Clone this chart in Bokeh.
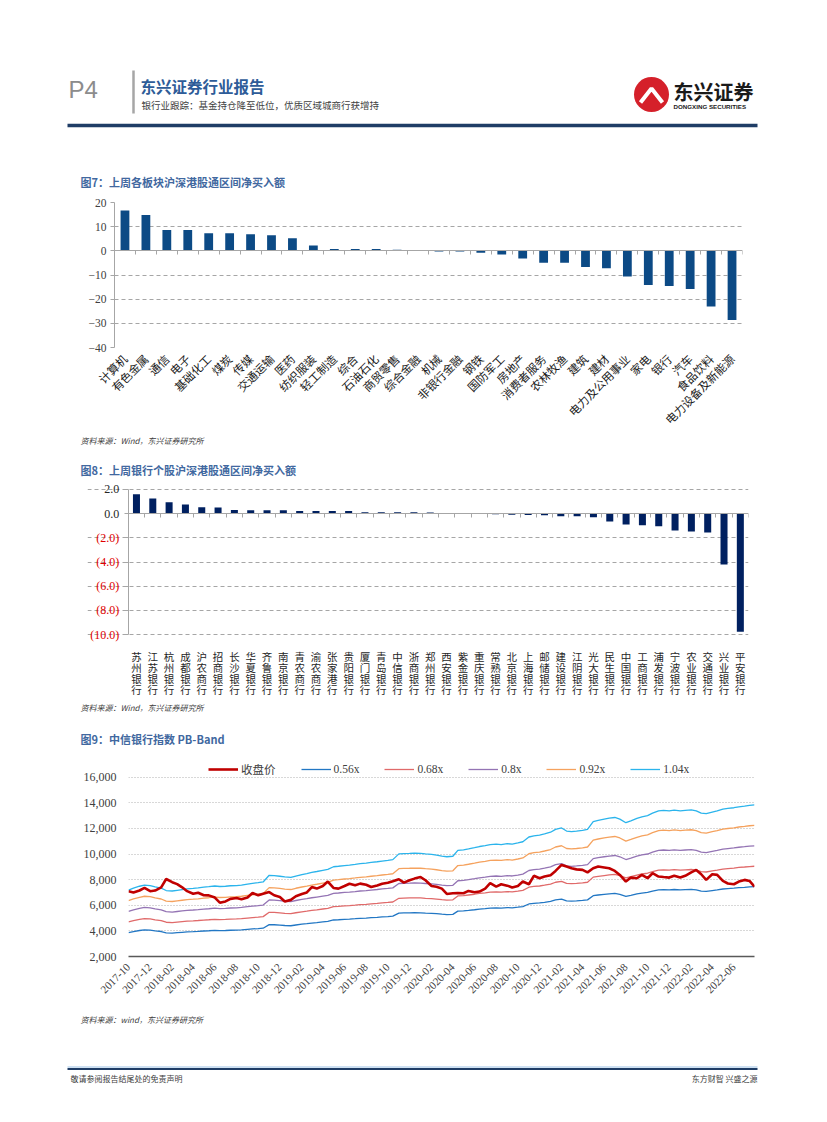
from math import pi
import datetime as dt
import pandas as pd
from bokeh.plotting import figure
from bokeh.layouts import column
from bokeh.models import (Range1d, FixedTicker, LinearAxis, Legend, LegendItem, LabelSet,
                          ColumnDataSource, MonthsTicker, DatetimeTickFormatter, NumeralTickFormatter)
from bokeh.core.properties import value
from bokeh.embed import file_html
from bokeh.resources import INLINE

CJK = "Noto Sans CJK SC"
SERIF = "Liberation Serif"
MIXED = "Liberation Serif, Noto Sans CJK SC"

# ---------------- data: chart 7 ----------------
sectors = ["计算机", "有色金属", "通信", "电子", "基础化工", "煤炭", "传媒", "交通运输", "医药",
           "纺织服装", "轻工制造", "综合", "石油石化", "商贸零售", "综合金融", "机械", "非银行金融",
           "钢铁", "国防军工", "房地产", "消费者服务", "农林牧渔", "建筑", "建材", "电力及公用事业",
           "家电", "银行", "汽车", "食品饮料", "电力设备及新能源"]
sector_flow = [16.7, 14.8, 8.6, 8.6, 7.3, 7.3, 6.9, 6.4, 5.2, 2.2, 0.8, 0.8, 0.8, 0.4, 0.1,
               -0.3, -0.3, -0.8, -1.5, -3.2, -4.9, -4.9, -6.7, -7.2, -10.6, -14.1, -14.6,
               -15.8, -23.0, -28.6]
sector_ticks = [20, 10, 0, -10, -20, -30, -40]

# ---------------- data: chart 8 ----------------
banks = ["苏州银行", "江苏银行", "杭州银行", "成都银行", "沪农商行", "招商银行", "长沙银行", "华夏银行",
         "齐鲁银行", "南京银行", "青农商行", "渝农商行", "张家港行", "贵阳银行", "厦门银行", "青岛银行",
         "中信银行", "浙商银行", "郑州银行", "西安银行", "紫金银行", "重庆银行", "常熟银行", "北京银行",
         "上海银行", "邮储银行", "建设银行", "江阴银行", "光大银行", "民生银行", "中国银行", "工商银行",
         "浦发银行", "宁波银行", "农业银行", "交通银行", "兴业银行", "平安银行"]
bank_flow = [1.6, 1.25, 0.93, 0.75, 0.52, 0.5, 0.3, 0.28, 0.27, 0.27, 0.2, 0.2, 0.2, 0.2,
             0.1, 0.1, 0.1, 0.1, 0.08, 0.0, -0.02, -0.03, -0.05, -0.1, -0.13, -0.15, -0.22,
             -0.22, -0.3, -0.65, -0.9, -0.97, -1.05, -1.4, -1.48, -1.57, -4.2, -9.75]
bank_ticks = [2, 0, -2, -4, -6, -8, -10]
bank_tick_labels = ["2.0", "0.0", "(2.0)", "(4.0)", "(6.0)", "(8.0)", "(10.0)"]

# ---------------- data: chart 9 (semi-monthly readings) ----------------
pb_dates = [d.to_pydatetime() for d in pd.date_range("2017-10-01", "2022-07-15", freq="SMS")] \
           + [dt.datetime(2022, 7, 29)]
pb_close = [7100, 7000, 7150, 7350, 7100, 7150, 7400, 8050, 7800, 7650,
            7400, 7100, 6900, 6980, 6780, 6770, 6600, 6200, 6300, 6500,
            6560, 6460, 6600, 6950, 6780, 6900, 7030, 6780, 6650, 6300,
            6420, 6700, 6880, 7000, 7420, 7300, 7500, 7850, 7350, 7300,
            7500, 7680, 7560, 7690, 7600, 7430, 7550, 7680, 7750, 7870,
            8030, 7770, 7950, 8080, 8200, 7950, 7500, 7450, 7300, 6880,
            6940, 6950, 6940, 7120, 7010, 7070, 7300, 7720, 7460, 7640,
            7530, 7380, 7500, 7850, 7640, 8300, 8110, 8240, 8350, 8680,
            9150, 9020, 8890, 8800, 8760, 8570, 8890, 9020, 8950, 8890,
            8680, 8370, 7850, 8160, 8110, 8370, 8110, 8500, 8240, 8200,
            8160, 8310, 8160, 8300, 8570, 8760, 8420, 7980, 8420, 8370,
            7900, 7700, 7640, 7850, 7980, 7900, 7450]
# book value per share expressed through the 0.56x line
pb_056 = [3870, 3950, 4030, 4080, 4060, 4000, 3950, 3850, 3830, 3860,
          3890, 3920, 3940, 3960, 3990, 4010, 4040, 4020, 4030, 4050,
          4060, 4080, 4120, 4150, 4180, 4210, 4490, 4480, 4450, 4420,
          4400, 4460, 4520, 4560, 4610, 4650, 4700, 4740, 4850, 4870,
          4900, 4920, 4950, 4980, 5000, 5030, 5060, 5090, 5120, 5150,
          5390, 5400, 5410, 5420, 5410, 5390, 5370, 5340, 5300, 5270,
          5290, 5540, 5560, 5600, 5650, 5700, 5740, 5780, 5800, 5780,
          5820, 5800, 5850, 5900, 6100, 6150, 6180, 6230, 6300, 6420,
          6480, 6350, 6330, 6350, 6380, 6420, 6750, 6800, 6850, 6890,
          6920, 6850, 6700, 6780, 6880, 6950, 7000, 7100, 7200, 7220,
          7200, 7230, 7200, 7220, 7240, 7200, 7100, 7080, 7150, 7200,
          7270, 7300, 7330, 7370, 7400, 7430, 7450]
pb_multiples = [0.56, 0.68, 0.8, 0.92, 1.04]
pb_labels = ["0.56x", "0.68x", "0.8x", "0.92x", "1.04x"]
pb_colors = ["#2277c4", "#e06a6a", "#9474b4", "#f5a25e", "#2bb4ec"]
pb_ticks = [2000, 4000, 6000, 8000, 10000, 12000, 14000, 16000]

n9 = min(len(pb_dates), len(pb_close), len(pb_056))
pb_dates, pb_close, pb_056 = pb_dates[:n9], pb_close[:n9], pb_056[:n9]

W = 811
GREY = "#a6a6a6"
TITLE_BLUE = "#41689f"


def fig(**kw):
    p = figure(width=W, output_backend="svg", toolbar_location=None, tools="", **kw)
    p.frame_align = False
    p.outline_line_color = None
    return p


def strip(y0, y1):
    p = fig(height=y1 - y0, x_range=Range1d(0, W), y_range=Range1d(y1, y0),
            x_axis_location=None, y_axis_location=None, min_border=0)
    p.grid.visible = False
    return p


def txt(p, x, y, s, size, color="#333333", font=CJK, style="normal", align="left"):
    p.text(x=[x], y=[y], text=[s], text_font=value(font), text_font_size=size,
           text_color=color, text_font_style=style, text_align=align, text_baseline="middle")


def zero_axis(n):
    return LinearAxis(fixed_location=0, ticker=FixedTicker(ticks=[i - 0.5 for i in range(n + 1)]),
                      major_label_overrides={i - 0.5: "" for i in range(n + 1)},
                      bounds=(-0.5, n - 0.5),
                      major_tick_in=4, major_tick_out=0, minor_tick_line_color=None,
                      axis_line_color=GREY, major_tick_line_color=GREY,
                      major_label_text_font_size="1px", major_label_standoff=0)


# ---------------- header ----------------
head = strip(0, 188)
txt(head, 68, 89, "P4", "24px", "#8c8c8c", "Liberation Sans")
head.line(x=[133, 133], y=[70, 113], line_width=2.5, line_color=GREY)
txt(head, 140, 85, "东兴证券行业报告", "15.5px", "#2e5c98", style="bold")
txt(head, 141, 104, "银行业跟踪：基金持仓降至低位，优质区域城商行获增持", "9.5px", "#3f3f3f")
head.circle(x=[651], y=[94], radius=17.5, fill_color="#d5202a", line_color=None)
head.line(x=[640, 651, 662], y=[102, 88, 102], line_width=4, line_color="white")
head.line(x=[645, 651, 657], y=[102, 95, 102], line_width=1.5, line_color="#d5202a")
txt(head, 673, 91, "东兴证券", "20px", "#1a1a1a", style="bold")
txt(head, 673, 106, "DONGXING SECURITIES", "6.2px", "#1a1a1a", "Liberation Sans", "bold")
head.line(x=[67, 757], y=[125, 125], line_width=3.5, line_color="#1f3d66")
txt(head, 80, 181, "图7：上周各板块沪深港股通区间净买入额", "11px", TITLE_BLUE, style="bold")

# ---------------- chart 7 ----------------
idx7 = list(range(len(sectors)))
p7 = fig(height=436 - 188, x_range=Range1d(-0.5, len(sectors) - 0.5),
         y_range=Range1d(-40, 20), min_border_left=114, min_border_right=W - 742,
         min_border_top=14, min_border_bottom=89)
p7.vbar(x=idx7, top=sector_flow, width=0.42, fill_color="#0c4a85", line_color=None)
p7.xgrid.visible = False
p7.ygrid.ticker = FixedTicker(ticks=[t for t in sector_ticks if t != 0])
p7.ygrid.grid_line_dash = "4 3"
p7.ygrid.grid_line_color = GREY
p7.yaxis.ticker = FixedTicker(ticks=sector_ticks)
p7.yaxis.major_label_text_font = SERIF
p7.yaxis.major_label_text_font_size = "11.5px"
p7.yaxis.major_label_text_color = "#404040"
p7.yaxis.axis_line_color = GREY
p7.yaxis.major_tick_line_color = GREY
p7.yaxis.major_tick_out = 4
p7.yaxis.major_tick_in = 0
p7.yaxis.minor_tick_line_color = None
p7.yaxis.major_label_standoff = 4
p7.xaxis.ticker = FixedTicker(ticks=idx7)
p7.xaxis.major_label_overrides = {i: s for i, s in enumerate(sectors)}
p7.xaxis.major_label_orientation = pi / 4
p7.xaxis.major_label_text_font = CJK
p7.xaxis.major_label_text_font_size = "11.5px"
p7.xaxis.major_label_text_color = "#1a1a1a"
p7.xaxis.axis_line_color = None
p7.xaxis.major_tick_line_color = None
p7.xaxis.minor_tick_line_color = None
p7.xaxis.major_label_standoff = 3
p7.add_layout(zero_axis(len(sectors)), "above")

# ---------------- strip 1 ----------------
s1 = strip(436, 480)
txt(s1, 80, 440, "资料来源：Wind，东兴证券研究所", "8px", "#404040", style="italic")
txt(s1, 80, 469, "图8：上周银行个股沪深港股通区间净买入额", "11px", TITLE_BLUE, style="bold")

# ---------------- chart 8 ----------------
idx8 = list(range(len(banks)))
n8 = len(banks)
p8 = fig(height=700 - 480, x_range=Range1d(-3.0, n8 - 0.5),
         y_range=Range1d(-10.56, 2.56), min_border_left=87, min_border_right=W - 748,
         min_border_top=2, min_border_bottom=54)
p8.vbar(x=idx8, top=bank_flow, width=0.43, fill_color="#002060", line_color=None)
p8.xgrid.visible = False
p8.ygrid.ticker = FixedTicker(ticks=[t for t in bank_ticks if t != 0])
p8.ygrid.bounds = (-0.5, n8 - 0.5)
p8.ygrid.grid_line_dash = "4 3"
p8.ygrid.grid_line_color = GREY
p8.yaxis.fixed_location = -0.5
p8.yaxis.bounds = (min(bank_ticks), max(bank_ticks))
p8.yaxis.ticker = FixedTicker(ticks=bank_ticks)
p8.yaxis.major_label_overrides = {t: (l if t < 0 else "") for t, l in zip(bank_ticks, bank_tick_labels)}
p8.yaxis.major_label_text_color = "#e00000"
p8.yaxis.major_label_text_font = SERIF
p8.yaxis.major_label_text_font_size = "12px"
p8.yaxis.axis_line_color = GREY
p8.yaxis.major_tick_line_color = GREY
p8.yaxis.major_tick_out = 4
p8.yaxis.major_tick_in = 0
p8.yaxis.minor_tick_line_color = None
p8.yaxis.major_label_standoff = 5
pos_src = ColumnDataSource(dict(
    x=[-0.5 for t in bank_ticks if t >= 0],
    y=[t for t in bank_ticks if t >= 0],
    text=[l for t, l in zip(bank_ticks, bank_tick_labels) if t >= 0]))
p8.add_layout(LabelSet(x="x", y="y", text="text", source=pos_src, x_offset=-9,
                       text_align="right", text_baseline="middle", text_font=value(SERIF),
                       text_font_size="12px", text_color="#262626"))
p8.xaxis.ticker = FixedTicker(ticks=idx8)
p8.xaxis.major_label_overrides = {i: "\n".join(s) for i, s in enumerate(banks)}
p8.xaxis.major_label_text_font = CJK
p8.xaxis.major_label_text_font_size = "10.5px"
p8.xaxis.major_label_text_line_height = 0.75
p8.xaxis.major_label_text_color = "#262626"
p8.xaxis.axis_line_color = None
p8.xaxis.major_tick_line_color = None
p8.xaxis.minor_tick_line_color = None
p8.xaxis.major_label_standoff = 1
p8.add_layout(zero_axis(n8), "above")

# ---------------- strip 2 ----------------
s2 = strip(700, 745)
txt(s2, 80, 707, "资料来源：Wind，东兴证券研究所", "8px", "#404040", style="italic")
txt(s2, 80, 738, "图9：中信银行指数 PB-Band", "11px", TITLE_BLUE, style="bold")

# ---------------- chart 9 ----------------
p9 = fig(height=1000 - 745, x_axis_type="datetime",
         x_range=Range1d(pb_dates[0], pb_dates[-1]), y_range=Range1d(2000, 17300),
         min_border_left=128, min_border_right=W - 754, min_border_top=15, min_border_bottom=44)
band_renderers = []
for m, c in zip(pb_multiples, pb_colors):
    band = [v * m / 0.56 for v in pb_056]
    band_renderers.append(p9.line(x=pb_dates, y=band, line_color=c, line_width=1.3))
close_r = p9.line(x=pb_dates, y=pb_close, line_color="#c00000", line_width=2.6)
p9.xgrid.visible = False
p9.ygrid.ticker = FixedTicker(ticks=pb_ticks[1:])
p9.ygrid.grid_line_dash = "1 2"
p9.ygrid.grid_line_color = "#b0b0b0"
p9.yaxis.ticker = FixedTicker(ticks=pb_ticks)
p9.yaxis.formatter = NumeralTickFormatter(format="0,0")
p9.yaxis.major_label_text_font = SERIF
p9.yaxis.major_label_text_font_size = "12px"
p9.yaxis.major_label_text_color = "#404040"
p9.yaxis.axis_line_color = None
p9.yaxis.major_tick_line_color = None
p9.yaxis.minor_tick_line_color = None
p9.yaxis.major_label_standoff = 6
p9.xaxis.ticker = MonthsTicker(months=[1, 3, 5, 7, 9, 11])
p9.xaxis.formatter = DatetimeTickFormatter(months="%Y-%m", years="%Y-%m", days="%Y-%m")
p9.xaxis.major_label_orientation = pi / 4
p9.xaxis.major_label_text_font = SERIF
p9.xaxis.major_label_text_font_size = "11px"
p9.xaxis.major_label_text_color = "#404040"
p9.xaxis.axis_line_color = "#595959"
p9.xaxis.axis_line_width = 1.5
p9.xaxis.major_tick_line_color = None
p9.xaxis.minor_tick_line_color = None
p9.xaxis.major_label_standoff = 3
items = [LegendItem(label="收盘价", renderers=[close_r])] + \
        [LegendItem(label=l, renderers=[r]) for l, r in zip(pb_labels, band_renderers)]
legend = Legend(items=items, orientation="horizontal", location=(80, 179),
                label_text_font=MIXED, label_text_font_size="11.5px", label_text_color="#404040",
                glyph_width=30, glyph_height=12, label_standoff=3, spacing=25,
                padding=0, margin=0, border_line_color=None, background_fill_alpha=0)
p9.add_layout(legend)

# ---------------- strip 3 / footer ----------------
s3 = strip(1000, 1106)
txt(s3, 80, 1019, "资料来源：wind，东兴证券研究所", "8px", "#404040", style="italic")
s3.line(x=[67, 757], y=[1066.5, 1066.5], line_width=1, line_color="#9dc3e6")
s3.line(x=[67, 757], y=[1068.5, 1068.5], line_width=1.8, line_color="#1f3d66")
txt(s3, 70, 1078, "敬请参阅报告结尾处的免责声明", "8px", "#404040")
txt(s3, 757, 1078, "东方财智 兴盛之源", "8px", "#404040", align="right")

page = column(head, p7, s1, p8, s2, p9, s3, spacing=0)
open("out.html", "w").write(file_html(page, INLINE))
